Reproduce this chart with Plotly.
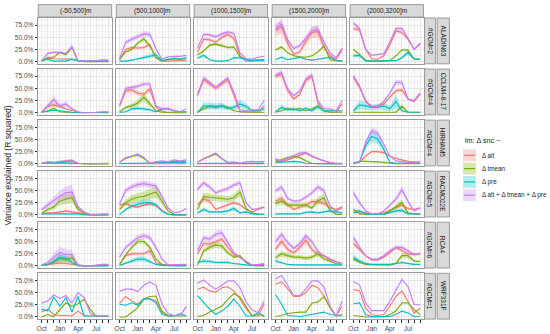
import plotly.graph_objects as go

# ---------------- data ----------------
MONTHS = ["Oct", "Nov", "Dec", "Jan", "Feb", "Mar", "Apr", "May", "Jun", "Jul", "Aug", "Sep"]
MONTH_LABELS = ["Oct", "", "", "Jan", "", "", "Apr", "", "", "Jul", "", ""]
ELEVATION_BANDS = ["(-50,500]m", "(500,1000]m", "(1000,1500]m", "(1500,2000]m", "(2000,3200]m"]
RCMS = ["ALADIN63", "CCLM4-8-17", "HIRHAM5", "RACMO22E", "RCA4", "WRF331F"]
GCM_COUNTS = ["#GCM=2", "#GCM=4", "#GCM=4", "#GCM=5", "#GCM=6", "#GCM=1"]
PREDICTORS = ["Δ alt", "Δ tmean", "Δ pre", "Δ alt + Δ tmean + Δ pre"]
Y_TICKS = [0, 25, 50, 75]
Y_TICK_LABELS = ["0.0%", "25.0%", "50.0%", "75.0%"]
LEGEND_TITLE = "lm: Δ snc ~"
Y_TITLE = "Variance explained (R squared)"

# each model: one list of 12 monthly values (Oct..Sep) per elevation band, in %
ALADIN63_ALT = [
    [2, 7, 6, 6, 5, 5, 2, 0, 0, 0, 1, 1],
    [4, 25, 29, 28, 29, 35, 8, 1, 1, 2, 2, 2],
    [20, 46, 45, 40, 50, 56, 48, 12, 1, 1, 3, 5],
    [64, 72, 38, 15, 20, 42, 60, 62, 30, 12, 5, 24],
    [68, 65, 25, 6, 5, 12, 34, 63, 60, 46, 25, 36],
]
ALADIN63_TMEAN = [
    [1, 9, 9, 19, 14, 29, 1, 0, 0, 0, 0, 0],
    [5, 20, 25, 38, 47, 32, 8, 1, 5, 5, 5, 6],
    [14, 22, 34, 36, 33, 29, 30, 10, 5, 3, 4, 3],
    [24, 30, 18, 12, 10, 9, 12, 20, 32, 4, 2, 1],
    [25, 15, 3, 1, 1, 1, 2, 12, 24, 24, 5, 4],
]
ALADIN63_PRE = [
    [2, 5, 1, 1, 1, 5, 2, 1, 1, 2, 3, 2],
    [1, 1, 3, 6, 9, 11, 14, 2, 5, 7, 5, 8],
    [7, 13, 4, 1, 1, 2, 8, 8, 4, 2, 2, 2],
    [4, 9, 4, 7, 9, 5, 3, 5, 7, 9, 2, 2],
    [12, 13, 1, 1, 1, 1, 1, 2, 8, 19, 6, 5],
]
ALADIN63_ALL = [
    [2, 17, 19, 19, 17, 31, 2, 1, 1, 2, 3, 3],
    [7, 40, 46, 51, 57, 56, 26, 5, 10, 11, 11, 13],
    [28, 56, 55, 51, 57, 61, 58, 18, 6, 5, 9, 11],
    [68, 77, 45, 27, 33, 48, 63, 66, 40, 18, 8, 28],
    [79, 68, 25, 13, 15, 16, 40, 68, 68, 48, 25, 38],
]

CCLM_ALT = [
    [1, 13, 16, 13, 8, 4, 1, 0, 0, 0, 1, 1],
    [13, 45, 47, 40, 38, 49, 11, 3, 1, 1, 1, 2],
    [35, 68, 59, 50, 59, 68, 35, 2, 1, 1, 1, 14],
    [75, 79, 45, 28, 38, 66, 75, 20, 2, 1, 1, 18],
    [73, 52, 23, 11, 13, 18, 32, 45, 47, 28, 23, 38],
]
CCLM_TMEAN = [
    [1, 4, 9, 2, 1, 1, 0, 0, 0, 0, 0, 0],
    [2, 11, 14, 20, 32, 18, 4, 1, 0, 0, 0, 0],
    [1, 8, 13, 11, 14, 11, 4, 2, 2, 1, 1, 1],
    [1, 4, 9, 6, 9, 4, 8, 13, 4, 1, 1, 1],
    [1, 1, 1, 1, 1, 1, 2, 1, 13, 1, 1, 1],
]
CCLM_PRE = [
    [1, 3, 5, 4, 2, 1, 0, 0, 0, 1, 1, 1],
    [1, 2, 8, 9, 8, 6, 2, 8, 8, 4, 2, 2],
    [1, 14, 14, 13, 14, 9, 11, 18, 13, 4, 4, 8],
    [2, 11, 6, 8, 4, 9, 4, 13, 4, 4, 4, 4],
    [4, 16, 14, 11, 11, 14, 8, 23, 4, 1, 1, 1],
]
CCLM_ALL = [
    [2, 14, 27, 14, 18, 8, 2, 0, 0, 1, 2, 2],
    [16, 50, 52, 54, 59, 59, 14, 8, 9, 4, 2, 8],
    [38, 71, 62, 52, 62, 71, 42, 6, 4, 6, 6, 25],
    [76, 83, 49, 35, 45, 69, 77, 25, 8, 8, 4, 25],
    [75, 55, 25, 13, 14, 23, 40, 62, 62, 28, 25, 40],
]

HIRHAM_ALT = [
    [0.5, 0.5, 0.5, 0.5, 0.5, 0.5, 0, 0, 0, 0, 0, 0],
    [0.5, 0, 0, 0, 0, 0, 0, 0, 0, 0, 0, 0],
    [0.5, 0, 0, 0, 0, 0, 0, 0, 0, 0, 0, 0],
    [8, 4, 8, 13, 18, 22, 15, 10, 5, 1, 0, 0],
    [1, 3, 16, 25, 25, 23, 16, 11, 8, 5, 4, 4],
]
HIRHAM_TMEAN = [
    [1, 3, 2, 4, 5, 6, 1, 0, 0, 0, 0, 0],
    [3, 11, 15, 18, 11, 1, 4, 3, 4, 5, 4, 6],
    [3, 10, 15, 20, 10, 2, 1, 0, 1, 1, 1, 1],
    [4, 8, 13, 15, 13, 6, 1, 0, 0, 0, 0, 0],
    [1, 5, 5, 5, 4, 3, 1, 0, 0, 0, 0, 0],
]
HIRHAM_PRE = [
    [1, 3, 2, 3, 2, 1, 1, 0, 0, 0, 0, 0],
    [0, 1, 1, 1, 1, 1, 2, 3, 3, 2, 2, 3],
    [0, 1, 1, 1, 1, 1, 2, 2, 1, 1, 1, 1],
    [3, 3, 4, 5, 4, 1, 0, 0, 0, 0, 0, 0],
    [1, 3, 37, 56, 51, 30, 3, 1, 1, 1, 1, 1],
]
HIRHAM_ALL = [
    [1, 4, 3, 5, 6, 7, 1, 0, 0, 1, 1, 1],
    [3, 13, 16, 20, 13, 1, 4, 6, 4, 8, 6, 8],
    [3, 11, 16, 22, 11, 3, 4, 1, 4, 5, 4, 5],
    [10, 6, 11, 16, 22, 23, 16, 11, 6, 3, 1, 1],
    [3, 4, 44, 68, 63, 40, 16, 6, 4, 3, 3, 4],
]

RACMO_ALT = [
    [2, 4, 4, 6, 8, 6, 4, 2, 0, 0, 0, 0],
    [20, 23, 18, 16, 20, 23, 20, 9, 2, 0, 0, 1],
    [21, 32, 28, 11, 16, 20, 25, 21, 11, 6, 11, 16],
    [28, 34, 21, 11, 16, 20, 27, 27, 23, 14, 11, 16],
    [9, 6, 4, 2, 2, 4, 9, 14, 20, 13, 11, 14],
]
RACMO_TMEAN = [
    [4, 11, 16, 28, 32, 35, 11, 4, 0, 0, 1, 1],
    [11, 25, 32, 36, 38, 42, 47, 28, 8, 1, 0, 0],
    [11, 38, 36, 35, 34, 32, 35, 47, 13, 4, 1, 1],
    [23, 28, 20, 20, 20, 20, 14, 29, 35, 9, 1, 1],
    [11, 2, 1, 1, 1, 1, 8, 16, 25, 4, 2, 2],
]
RACMO_PRE = [
    [2, 2, 3, 2, 2, 2, 2, 0, 0, 0, 0, 0],
    [1, 11, 18, 21, 25, 25, 20, 8, 1, 0, 0, 0],
    [4, 11, 6, 6, 6, 8, 13, 4, 6, 2, 1, 1],
    [2, 2, 2, 2, 2, 5, 6, 4, 6, 8, 6, 4],
    [4, 8, 2, 1, 1, 1, 4, 8, 9, 2, 2, 1],
]
RACMO_ALL = [
    [11, 20, 29, 38, 45, 47, 16, 6, 1, 1, 2, 2],
    [23, 50, 57, 62, 64, 62, 59, 38, 14, 4, 6, 13],
    [52, 66, 57, 45, 50, 54, 61, 66, 25, 11, 13, 16],
    [49, 57, 34, 28, 29, 36, 45, 57, 50, 18, 8, 14],
    [45, 25, 8, 2, 2, 8, 20, 32, 52, 28, 8, 14],
]

RCA4_ALT = [
    [1, 3, 4, 6, 5, 3, 1, 0, 0, 1, 1, 1],
    [3, 21, 25, 25, 25, 31, 7, 2, 1, 1, 1, 2],
    [25, 46, 45, 50, 55, 38, 23, 18, 7, 1, 2, 3],
    [34, 51, 34, 27, 38, 53, 34, 24, 21, 14, 9, 5],
    [46, 34, 21, 12, 12, 18, 27, 38, 31, 25, 23, 25],
]
RCA4_TMEAN = [
    [1, 3, 7, 16, 12, 17, 0, 0, 0, 0, 1, 1],
    [3, 23, 38, 50, 50, 38, 14, 3, 1, 1, 1, 1],
    [2, 31, 38, 43, 41, 27, 18, 21, 7, 1, 0, 0],
    [17, 25, 21, 18, 18, 16, 18, 25, 14, 10, 5, 3],
    [14, 7, 3, 2, 2, 2, 2, 5, 21, 21, 10, 9],
]
RCA4_PRE = [
    [1, 3, 10, 17, 16, 7, 1, 0, 0, 0, 0, 0],
    [1, 5, 9, 14, 14, 9, 3, 1, 0, 0, 0, 0],
    [7, 10, 9, 7, 7, 7, 5, 3, 2, 1, 1, 1],
    [10, 7, 3, 2, 2, 2, 2, 2, 2, 2, 2, 2],
    [17, 10, 5, 3, 3, 3, 3, 5, 7, 5, 3, 3],
]
RCA4_ALL = [
    [2, 7, 18, 27, 24, 23, 2, 0, 0, 2, 3, 3],
    [18, 38, 48, 58, 62, 58, 38, 14, 2, 2, 2, 3],
    [31, 58, 55, 65, 68, 48, 27, 17, 10, 2, 3, 5],
    [50, 65, 48, 36, 46, 62, 50, 30, 20, 12, 9, 5],
    [58, 38, 21, 14, 14, 21, 31, 38, 38, 31, 24, 25],
]

WRF_ALT = [
    [10, 16, 5, 3, 3, 2, 12, 3, 2, 2, 2, 2],
    [28, 42, 33, 26, 37, 37, 33, 12, 3, 3, 3, 21],
    [57, 61, 53, 51, 60, 62, 53, 37, 17, 3, 2, 26],
    [67, 72, 58, 42, 42, 50, 65, 60, 43, 19, 2, 22],
    [56, 54, 18, 5, 3, 5, 22, 42, 53, 32, 8, 18],
]
WRF_TMEAN = [
    [0, 5, 1, 14, 29, 22, 27, 36, 16, 1, 1, 1],
    [0, 0, 9, 19, 37, 42, 43, 10, 2, 2, 2, 2],
    [1, 3, 10, 16, 22, 36, 48, 41, 22, 2, 5, 1],
    [1, 3, 7, 9, 10, 10, 28, 31, 42, 19, 2, 5],
    [3, 1, 0, 0, 0, 0, 5, 12, 29, 29, 15, 5],
]
WRF_PRE = [
    [16, 12, 41, 22, 40, 10, 42, 2, 2, 2, 2, 2],
    [26, 24, 29, 24, 37, 37, 29, 5, 2, 2, 7, 2],
    [44, 29, 16, 5, 12, 22, 37, 22, 2, 2, 9, 2],
    [46, 26, 3, 2, 1, 3, 5, 7, 10, 5, 3, 2],
    [27, 29, 5, 1, 1, 1, 1, 5, 12, 8, 1, 1],
]
WRF_ALL = [
    [28, 33, 45, 38, 44, 29, 50, 40, 8, 2, 2, 2],
    [53, 57, 57, 52, 65, 72, 65, 26, 7, 3, 3, 21],
    [69, 76, 65, 57, 65, 74, 74, 60, 31, 14, 9, 33],
    [78, 85, 65, 44, 44, 57, 74, 74, 62, 22, 2, 33],
    [73, 66, 29, 13, 13, 13, 32, 56, 77, 63, 25, 25],
]

# relative half-width of the GCM spread ribbon: per band, [alt, tmean, pre, all]
RIBBON_ALADIN63 = [[0.15, 0.1, 0.3, 0.15], [0.1, 0.1, 0.4, 0.1], [0.08, 0.1, 0.3, 0.06],
                   [0.2, 0.1, 0.3, 0.12], [0.06, 0.1, 0.3, 0.06]]
RIBBON_CCLM = [[0.3, 0.3, 0.3, 0.3], [0.12, 0.3, 0.4, 0.08], [0.1, 0.3, 0.5, 0.06],
               [0.08, 0.3, 0.5, 0.06], [0.08, 0.4, 0.6, 0.08]]
RIBBON_HIRHAM = [[0.3, 0.5, 0.5, 0.5], [0.2, 0.1, 0.3, 0.1], [0.2, 0.1, 0.3, 0.1],
                 [0.15, 0.2, 0.3, 0.15], [0.1, 0.2, 0.2, 0.1]]
RIBBON_RACMO = [[0.3, 0.3, 0.3, 0.3], [0.15, 0.25, 0.25, 0.1], [0.15, 0.2, 0.4, 0.08],
                [0.2, 0.25, 0.4, 0.1], [0.2, 0.3, 0.5, 0.15]]
RIBBON_RCA4 = [[0.4, 0.5, 0.5, 0.45], [0.15, 0.1, 0.4, 0.1], [0.1, 0.15, 0.4, 0.1],
               [0.15, 0.25, 0.4, 0.1], [0.1, 0.25, 0.4, 0.1]]
RIBBON_WRF = [[0, 0, 0, 0]] * 5

MODEL_DATA = [
    (ALADIN63_ALT, ALADIN63_TMEAN, ALADIN63_PRE, ALADIN63_ALL, RIBBON_ALADIN63),
    (CCLM_ALT, CCLM_TMEAN, CCLM_PRE, CCLM_ALL, RIBBON_CCLM),
    (HIRHAM_ALT, HIRHAM_TMEAN, HIRHAM_PRE, HIRHAM_ALL, RIBBON_HIRHAM),
    (RACMO_ALT, RACMO_TMEAN, RACMO_PRE, RACMO_ALL, RIBBON_RACMO),
    (RCA4_ALT, RCA4_TMEAN, RCA4_PRE, RCA4_ALL, RIBBON_RCA4),
    (WRF_ALT, WRF_TMEAN, WRF_PRE, WRF_ALL, RIBBON_WRF),
]

# ---------------- style ----------------
COLORS = ["#F8766D", "#7CAE00", "#00BFC4", "#C77CFF"]
FILLS = ["rgba(248,118,109,0.3)", "rgba(124,174,0,0.3)",
         "rgba(0,191,196,0.3)", "rgba(199,124,255,0.3)"]
FONT = "Liberation Sans, Arial, sans-serif"
W, H = 550, 334
COL_LEFT0, COL_PITCH, COL_W = 38.3, 77.95, 73.4
ROW_BOTTOM0, ROW_PITCH, ROW_H = 63.8, 51.06, 45.8
Y_RANGE = [-4.4, 89.6]
X_RANGE = [-0.56, 11.56]
BORDER = "#9a9a9a"
STRIP_FILL = "#d9d9d9"


def fx(px):
    return px / W


def fy(py):
    return 1 - py / H


fig = go.Figure()
layout_axes = {}
shapes = []
annotations = []
xs = list(range(len(MONTHS)))

for r in range(len(RCMS)):
    series = MODEL_DATA[r][:4]
    rib = MODEL_DATA[r][4]
    yb = ROW_BOTTOM0 + r * ROW_PITCH
    yt = yb - ROW_H
    for c in range(len(ELEVATION_BANDS)):
        n = r * 5 + c + 1
        xa = "x" if n == 1 else f"x{n}"
        ya = "y" if n == 1 else f"y{n}"
        for s in range(4):
            vals = series[s][c]
            f = rib[c][s]
            if f > 0:
                up = [v * (1 + f) for v in vals]
                lo = [v * (1 - f) for v in vals]
                fig.add_trace(go.Scatter(
                    x=xs + xs[::-1], y=up + lo[::-1], fill="toself",
                    fillcolor=FILLS[s], line=dict(width=0), mode="lines",
                    hoverinfo="skip", showlegend=False, xaxis=xa, yaxis=ya))
        for s in range(4):
            fig.add_trace(go.Scatter(
                x=xs, y=series[s][c], mode="lines", name=PREDICTORS[s],
                line=dict(color=COLORS[s], width=1.15), showlegend=False,
                xaxis=xa, yaxis=ya))

        x0 = COL_LEFT0 + c * COL_PITCH
        x1 = x0 + COL_W
        xkey = "xaxis" if n == 1 else f"xaxis{n}"
        ykey = "yaxis" if n == 1 else f"yaxis{n}"
        layout_axes[xkey] = dict(
            domain=[fx(x0), fx(x1)], range=X_RANGE, anchor=ya,
            tickmode="array", tickvals=xs, ticktext=MONTH_LABELS, tickangle=0,
            showticklabels=(r == 5), ticks="outside" if r == 5 else "",
            ticklen=2.5, tickwidth=0.8, tickcolor="#333333",
            tickfont=dict(size=6.6, color="#4d4d4d", family=FONT),
            showgrid=True, gridcolor="#e6e6e6", gridwidth=0.8,
            minor=dict(tickvals=[i + 0.5 for i in range(11)], showgrid=True,
                       gridcolor="#f2f2f2", gridwidth=0.5),
            zeroline=False, showline=True, mirror=True, linecolor=BORDER,
            linewidth=1, fixedrange=True, automargin=False)
        layout_axes[ykey] = dict(
            domain=[fy(yb), fy(yt)], range=Y_RANGE, anchor=xa,
            tickmode="array", tickvals=Y_TICKS, ticktext=Y_TICK_LABELS, tickangle=0,
            showticklabels=(c == 0), ticks="outside" if c == 0 else "",
            ticklen=2.5, tickwidth=0.8, tickcolor="#333333",
            tickfont=dict(size=6.6, color="#4d4d4d", family=FONT),
            showgrid=True, gridcolor="#e6e6e6", gridwidth=0.8,
            minor=dict(tickvals=[12.5, 37.5, 62.5, 87.5], showgrid=True,
                       gridcolor="#f2f2f2", gridwidth=0.5),
            zeroline=False, showline=True, mirror=True, linecolor=BORDER,
            linewidth=1, fixedrange=True, automargin=False)

    # row strips
    for (sx0, sx1, txt) in [(424.6, 435.6, GCM_COUNTS[r]), (437.2, 449.4, RCMS[r])]:
        shapes.append(dict(type="rect", xref="paper", yref="paper",
                           x0=fx(sx0), x1=fx(sx1), y0=fy(yb), y1=fy(yt),
                           fillcolor=STRIP_FILL, line=dict(color=BORDER, width=1)))
        annotations.append(dict(xref="paper", yref="paper", x=fx((sx0 + sx1) / 2),
                                y=fy((yb + yt) / 2), text=txt, textangle=90,
                                showarrow=False, xanchor="center", yanchor="middle",
                                font=dict(size=6.5, color="#1a1a1a", family=FONT)))

# column strips
for c in range(len(ELEVATION_BANDS)):
    x0 = COL_LEFT0 + c * COL_PITCH
    x1 = x0 + COL_W
    shapes.append(dict(type="rect", xref="paper", yref="paper",
                       x0=fx(x0), x1=fx(x1), y0=fy(17.0), y1=fy(4.6),
                       fillcolor=STRIP_FILL, line=dict(color=BORDER, width=1)))
    annotations.append(dict(xref="paper", yref="paper", x=fx((x0 + x1) / 2),
                            y=fy(10.8), text=ELEVATION_BANDS[c], showarrow=False,
                            xanchor="center", yanchor="middle",
                            font=dict(size=6.5, color="#1a1a1a", family=FONT)))

# y axis title
annotations.append(dict(xref="paper", yref="paper", x=fx(7.5), y=fy(166),
                        text=Y_TITLE, textangle=-90, showarrow=False,
                        xanchor="center", yanchor="middle",
                        font=dict(size=8.6, color="#1a1a1a", family=FONT)))

# legend (drawn manually, ggplot style)
annotations.append(dict(xref="paper", yref="paper", x=fx(462.5), y=fy(140.5),
                        text=LEGEND_TITLE, showarrow=False, xanchor="left",
                        yanchor="middle",
                        font=dict(size=7.2, color="#1a1a1a", family=FONT)))
for i in range(4):
    cy = 155.3 + 13.3 * i
    shapes.append(dict(type="rect", xref="paper", yref="paper",
                       x0=fx(463), x1=fx(476), y0=fy(cy + 6), y1=fy(cy - 6),
                       fillcolor=FILLS[i], line=dict(width=0)))
    shapes.append(dict(type="line", xref="paper", yref="paper",
                       x0=fx(464), x1=fx(475), y0=fy(cy), y1=fy(cy),
                       line=dict(color=COLORS[i], width=1.2)))
    annotations.append(dict(xref="paper", yref="paper", x=fx(479.5), y=fy(cy),
                            text=PREDICTORS[i], showarrow=False, xanchor="left",
                            yanchor="middle",
                            font=dict(size=6.3, color="#1a1a1a", family=FONT)))

fig.update_layout(
    width=W, height=H, margin=dict(l=0, r=0, t=0, b=0),
    paper_bgcolor="white", plot_bgcolor="white", showlegend=False,
    shapes=shapes, annotations=annotations,
    font=dict(family=FONT), **layout_axes)

fig.write_html(
    "out.html",
    config={"displayModeBar": False},
    post_script="document.body.style.margin='0';document.body.style.overflow='hidden';",
)
